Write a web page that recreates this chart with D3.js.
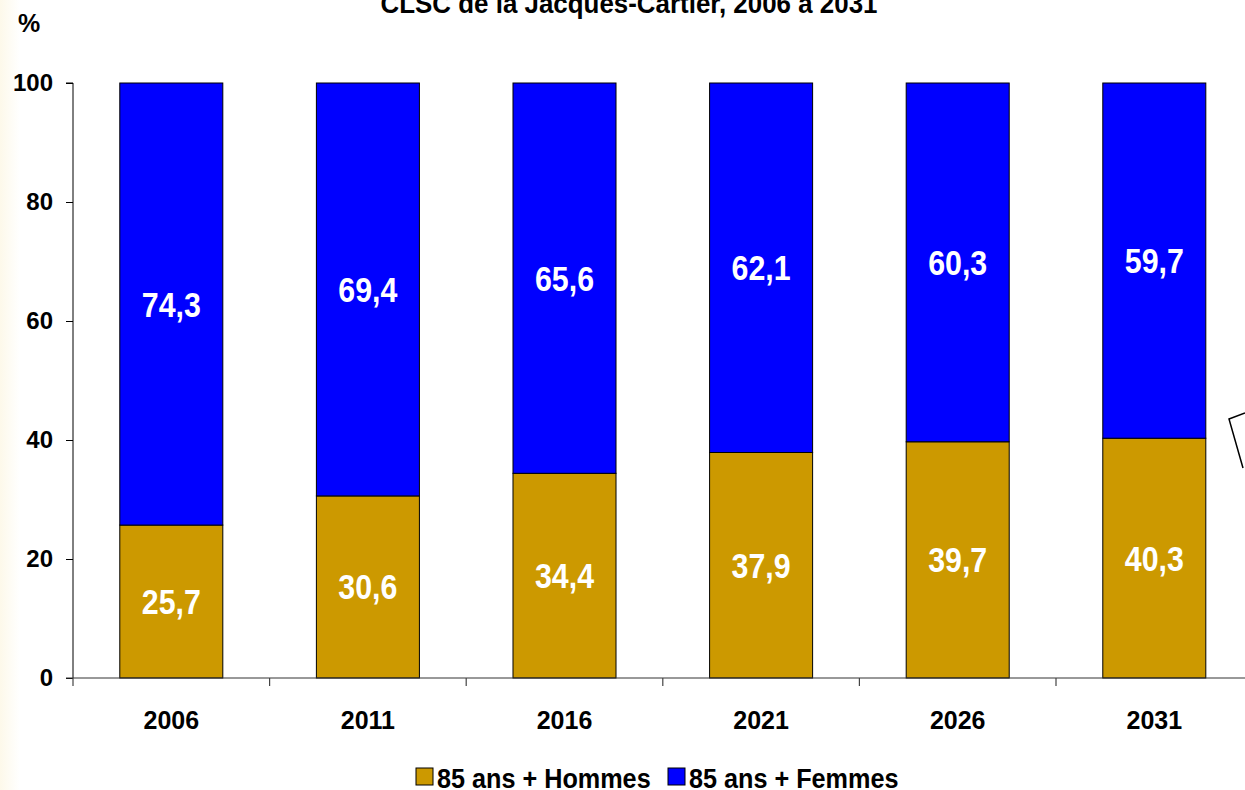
<!DOCTYPE html>
<html><head><meta charset="utf-8">
<script src="https://cdn.jsdelivr.net/npm/d3@7"></script>
<style>
html,body{margin:0;padding:0;background:#fff;overflow:hidden;}
text{font-family:"Liberation Sans",Arial,sans-serif;font-weight:bold;}
</style></head>
<body><svg id="c" width="1245" height="790"></svg>
<script>
const years = ["2006","2011","2016","2021","2026","2031"];
const hommes = [25.7, 30.6, 34.4, 37.9, 39.7, 40.3];
const femmes = [74.3, 69.4, 65.6, 62.1, 60.3, 59.7];
const yTicks = [0, 20, 40, 60, 80, 100];
const seriesNames = ["85 ans + Hommes", "85 ans + Femmes"];
const colors = ["#CC9900", "#0000FF"];
const title = "CLSC de la Jacques-Cartier, 2006 à 2031";

const svg = d3.select("#c");
// faint cream strip on left edge
const grad = svg.append("defs").append("linearGradient").attr("id","lg");
grad.append("stop").attr("offset","0%").attr("stop-color","#fdf9ea");
grad.append("stop").attr("offset","100%").attr("stop-color","#ffffff");
svg.append("rect").attr("x",0).attr("y",0).attr("width",20).attr("height",790).attr("fill","url(#lg)");

const x0 = 73, x1 = 73 + 6*196.6;
const x = d3.scaleBand().domain(years).range([x0, x1]).paddingInner(0.476).paddingOuter(0.238);
const y = d3.scaleLinear().domain([0,100]).range([678, 83]);

const fmt = v => v.toFixed(1).replace(".", ",");

// stacked data
const data = years.map((yr,i)=>({year:yr, Hommes:hommes[i], Femmes:femmes[i]}));
const stack = d3.stack().keys(["Hommes","Femmes"])(data);

const g = svg.append("g");
stack.forEach((layer, li) => {
  g.selectAll(null).data(layer).enter().append("rect")
    .attr("x", d => x(d.data.year))
    .attr("width", x.bandwidth())
    .attr("y", d => y(d[1]))
    .attr("height", d => y(d[0]) - y(d[1]))
    .attr("fill", colors[li])
    .attr("stroke", "#000").attr("stroke-width", 1);
  g.selectAll(null).data(layer).enter().append("text")
    .attr("transform", d => `translate(${x(d.data.year)+x.bandwidth()/2},${(y(d[0])+y(d[1]))/2}) scale(0.92,1.05)`)
    .attr("text-anchor","middle").attr("dy","0.36em")
    .attr("fill","#fff").attr("font-size","33px")
    .text(d => fmt(d[1]-d[0]));
});

// y axis
const ya = svg.append("g").attr("transform",`translate(${x0},0)`)
  .call(d3.axisLeft(y).tickValues(yTicks).tickSize(7).tickPadding(13));
ya.select(".domain").attr("stroke","#000").attr("d", `M-7,${y(100)}H0V${y(0)}`);
ya.selectAll(".tick line").attr("stroke","#000");
ya.selectAll(".tick text").attr("font-size","24px").attr("fill","#000")
  .attr("font-family","'Liberation Sans',Arial,sans-serif").attr("font-weight","bold");

// x axis
const xa = svg.append("g").attr("transform",`translate(0,${y(0)})`)
  .call(d3.axisBottom(x).tickSize(0).tickPadding(33));
xa.select(".domain").attr("stroke","#333").attr("d", `M${x0-7},0H1245`);
xa.selectAll(".tick text").attr("font-size","25px").attr("fill","#000")
  .attr("font-family","'Liberation Sans',Arial,sans-serif").attr("font-weight","bold");
// category boundary ticks
const bounds = d3.range(0, years.length+1).map(i => x0 + i*x.step());
svg.append("g").selectAll("line").data(bounds).enter().append("line")
  .attr("x1", d=>d).attr("x2", d=>d).attr("y1", y(0)).attr("y2", y(0)+8)
  .attr("stroke","#444").attr("stroke-width",1.2);

// title and unit
svg.append("text").attr("transform","translate(629,13) scale(0.96,1.05)").attr("text-anchor","middle")
  .attr("font-size","27px").attr("fill","#000").text(title);
svg.append("text").attr("x", 18).attr("y", 32).attr("font-size","25px").attr("fill","#000").text("%");

// legend
const leg = svg.append("g");
const legX = [416, 668];
seriesNames.forEach((n,i)=>{
  leg.append("rect").attr("x", legX[i]).attr("y", 768).attr("width", 17).attr("height", 17)
    .attr("fill", colors[i]).attr("stroke","#000").attr("stroke-width",1);
  leg.append("text").attr("transform", `translate(${legX[i]+21},788) scale(0.97,1.08)`)
    .attr("font-size","26px").attr("fill","#000").text(n);
});

// partial callout shape at right edge
svg.append("path").attr("d","M1245,413 L1229,419 L1243,468").attr("fill","none")
  .attr("stroke","#000").attr("stroke-width",1.5);
</script></body></html>
